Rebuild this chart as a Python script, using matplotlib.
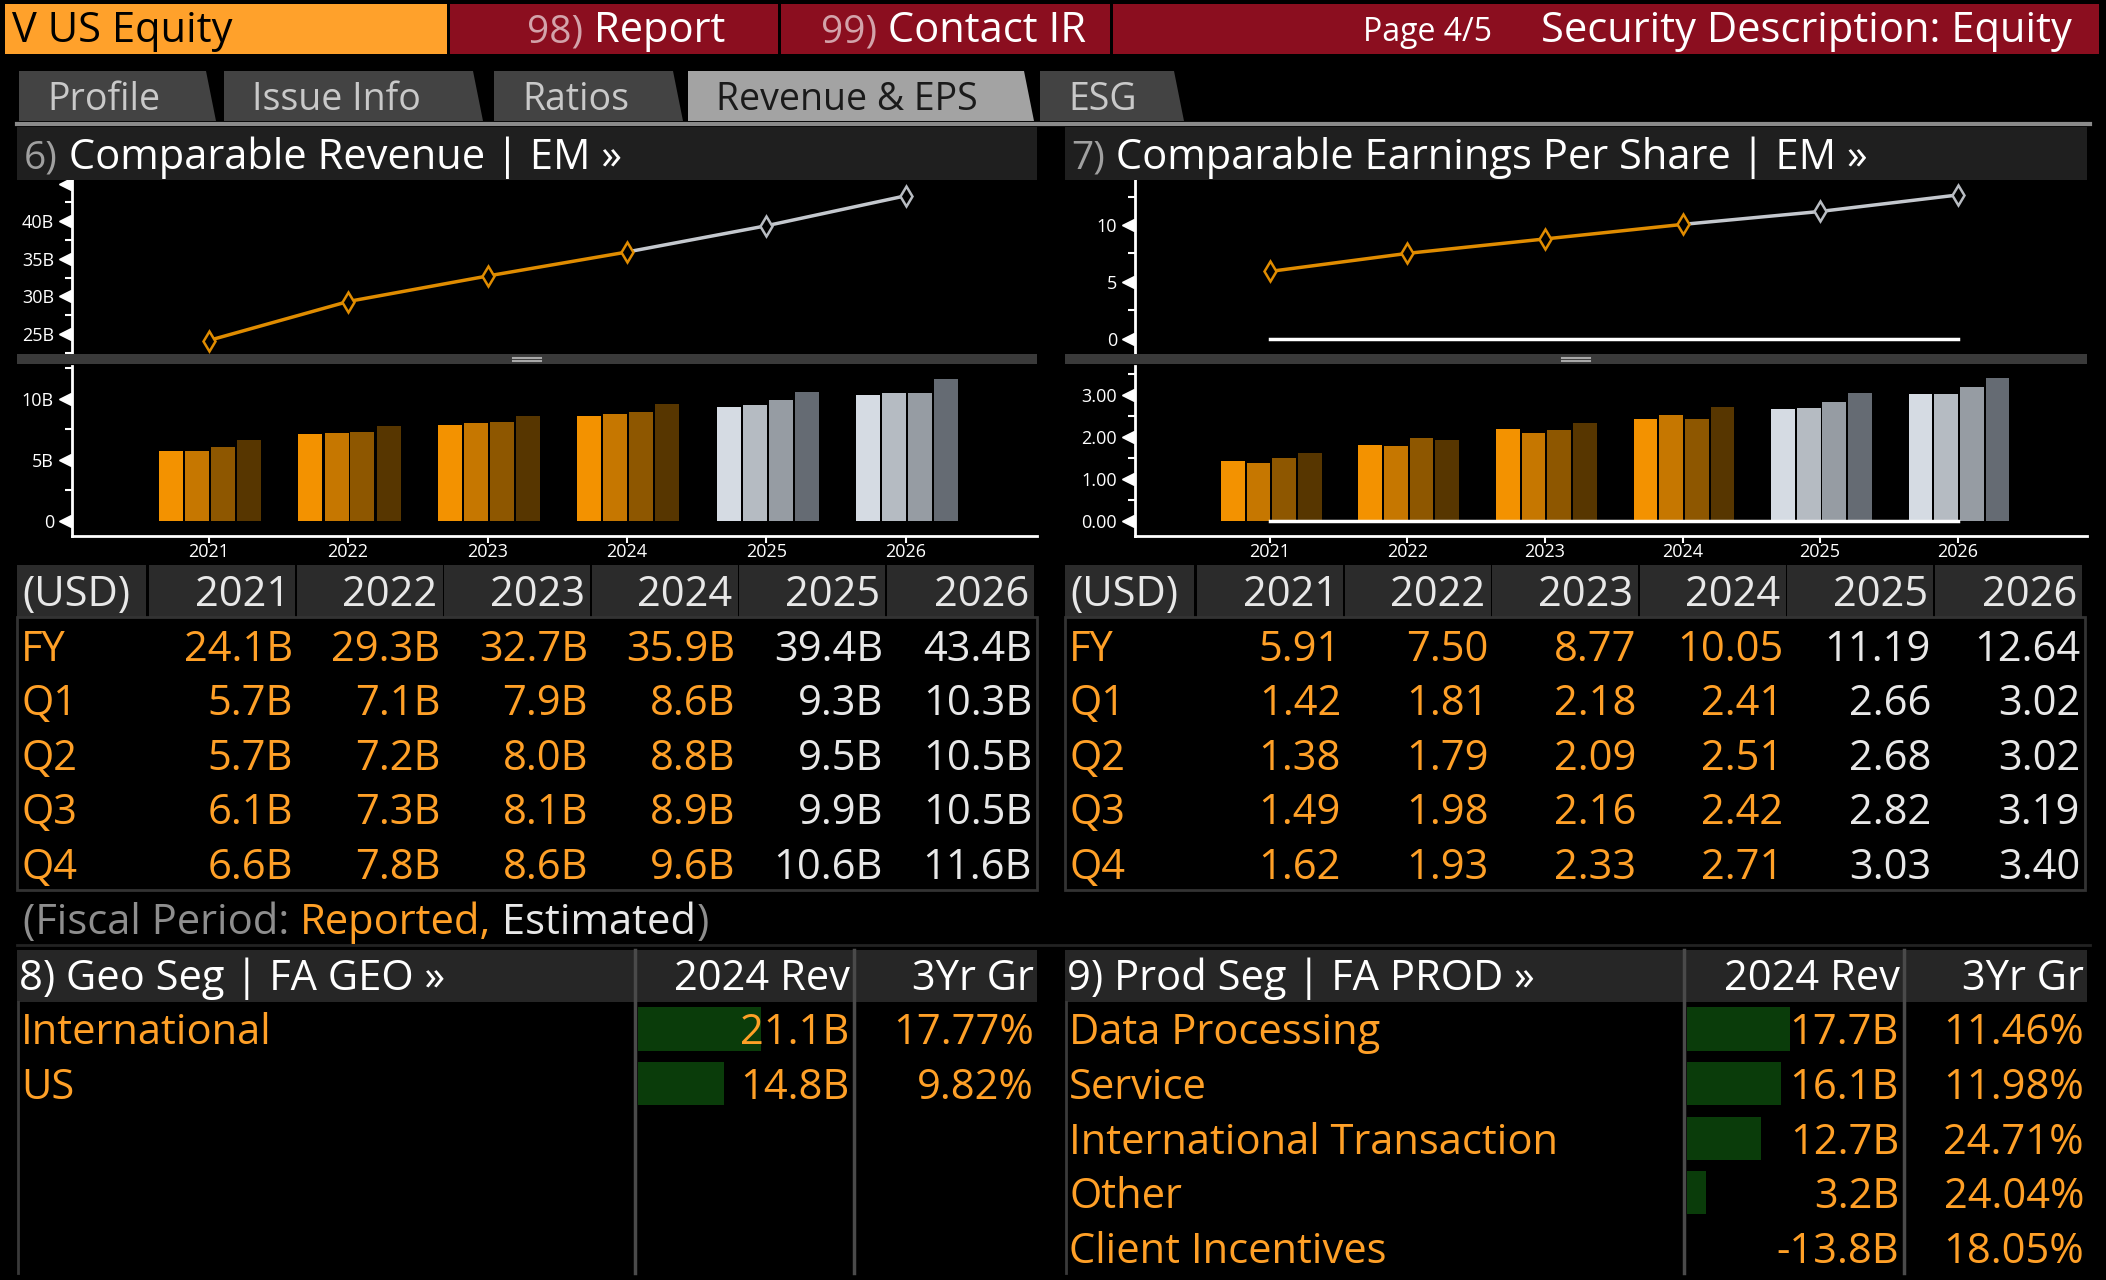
import numpy as np
import matplotlib.pyplot as plt
from matplotlib.patches import Rectangle, Polygon
from matplotlib.transforms import offset_copy

W, H = 2106, 1280
plt.rcParams['font.family'] = ['Open Sans', 'DejaVu Sans']
NARROW = ['Liberation Sans Narrow', 'Open Sans', 'DejaVu Sans']

# ---- data ----
years = [2021, 2022, 2023, 2024, 2025, 2026]
n_rep = 4  # 2021-2024 reported, rest estimated
row_labels = ['FY', 'Q1', 'Q2', 'Q3', 'Q4']

rev_fy = [24.1, 29.3, 32.7, 35.9, 39.4, 43.4]
rev_q1 = [5.7, 7.1, 7.9, 8.6, 9.3, 10.3]
rev_q2 = [5.7, 7.2, 8.0, 8.8, 9.5, 10.5]
rev_q3 = [6.1, 7.3, 8.1, 8.9, 9.9, 10.5]
rev_q4 = [6.6, 7.8, 8.6, 9.6, 10.6, 11.6]

eps_fy = [5.91, 7.50, 8.77, 10.05, 11.19, 12.64]
eps_q1 = [1.42, 1.81, 2.18, 2.41, 2.66, 3.02]
eps_q2 = [1.38, 1.79, 2.09, 2.51, 2.68, 3.02]
eps_q3 = [1.49, 1.98, 2.16, 2.42, 2.82, 3.19]
eps_q4 = [1.62, 1.93, 2.33, 2.71, 3.03, 3.40]

geo_names = ['International', 'US']
geo_rev = [21.1, 14.8]
geo_growth = [17.77, 9.82]

prod_names = ['Data Processing', 'Service', 'International Transaction', 'Other', 'Client Incentives']
prod_rev = [17.7, 16.1, 12.7, 3.2, -13.8]
prod_growth = [11.46, 11.98, 24.71, 24.04, 18.05]

tabs = ['Profile', 'Issue Info', 'Ratios', 'Revenue & EPS', 'ESG']
active_tab = 'Revenue & EPS'

# colours
ORANGE = '#ffa027'
WHITE = '#e8e8e8'
GRAY_TXT = '#8e8e8e'
rep_cols = ['#f39200', '#c67700', '#8e5700', '#573600']
est_cols = ['#d5dbe3', '#b5bbc2', '#969ca3', '#656b73']
FS = 30


def box(x0, y0, x1, y1):
    return [x0 / W, 1 - y1 / H, (x1 - x0) / W, (y1 - y0) / H]


fig = plt.figure(figsize=(W / 100, H / 100), dpi=100, facecolor='black')

# overlay axes in pixel coords for frames and text
ov = fig.add_axes([0, 0, 1, 1], zorder=5)
ov.set_xlim(0, W)
ov.set_ylim(H, 0)
ov.axis('off')


def rect(x0, y0, x1, y1, c):
    ov.add_patch(Rectangle((x0, y0), x1 - x0, y1 - y0, color=c, lw=0))


def chain2(x, y, pieces):
    # pieces of one line, all on the same baseline
    fig.canvas.draw()
    r = fig.canvas.get_renderer()
    inv = ov.transData.inverted()
    for s, c, fs, fam in pieces:
        kw = {'family': fam} if fam else {}
        t = ov.text(x, y, s, color=c, fontsize=fs, va='baseline', ha='left', **kw)
        bb = t.get_window_extent(renderer=r)
        x = inv.transform((bb.x1, bb.y0))[0]


# ---- top bar ----
rect(5, 4, 447, 54, '#ffa12b')
ov.text(12, 42, 'V US Equity', color='black', fontsize=FS, va='baseline')
rect(450, 4, 778, 54, '#8b0e1f')
rect(781, 4, 1110, 54, '#8b0e1f')
rect(1113, 4, 2099, 54, '#8b0e1f')
ov.text(1363, 41, 'Page 4/5', color='white', fontsize=23, va='baseline')
ov.text(2072, 42, 'Security Description: Equity', color='white', fontsize=FS, va='baseline', ha='right')

# ---- tabs ----
tab_x = [(19, 216), (224, 483), (494, 683), (688, 1034), (1040, 1184)]
for name, (a, b) in zip(tabs, tab_x):
    on = name == active_tab
    ov.add_patch(Polygon([(a, 121), (a, 71), (b - 10, 71), (b, 121)], closed=True,
                         color='#a3a3a3' if on else '#434343', lw=0))
    ov.text(a + 28, 110, name, color='#1a1a1a' if on else '#c9c9c9',
            fontsize=27, va='baseline', ha='left')
ov.plot([17, 2090], [124, 124], color='#8a8a8a', lw=3)


# ---- charts ----
def y_ticks(ax, major, labels, minor):
    ax.set_yticks(major)
    ax.set_yticklabels(labels)
    ax.set_yticks(minor, minor=True)
    ax.tick_params(axis='y', which='major', length=0, pad=13, labelsize=13, labelcolor='white')
    ax.tick_params(axis='y', which='minor', length=5, width=1.5, color='white', direction='out')
    tr = offset_copy(ax.get_yaxis_transform(), fig=fig, x=-5, units='points')
    for v in major:
        ax.plot([0], [v], marker='<', ms=9, color='white', transform=tr, clip_on=False)


def chart_pair(px0, px1, axis_x, line_vals, qs, lims, ticks, fmt_zero):
    rect(px0, 127, px1, 180, '#1f1f1f')
    # divider between the two plots
    rect(px0, 354, px1, 364, '#3a3a3a')
    cx = (px0 + px1) / 2
    ov.plot([cx - 14, cx + 14], [357.5, 357.5], color='#a8a8a8', lw=1.5)
    ov.plot([cx - 14, cx + 14], [361, 361], color='#a8a8a8', lw=1.5)

    # line chart
    ax = fig.add_axes(box(axis_x, 180, px1, 354), zorder=1)
    ax.set_facecolor('black')
    ax.plot(years[n_rep - 1:], line_vals[n_rep - 1:], color='#c4c8ce', lw=2.5)
    ax.plot(years[:n_rep], line_vals[:n_rep], color='#e08c00', lw=2.5, marker='d', ms=10,
            mfc='black', mec='#e08c00', mew=1.8)
    ax.plot(years[n_rep:], line_vals[n_rep:], ls='none', marker='d', ms=10,
            mfc='black', mec='#b8bcc2', mew=1.8)
    if fmt_zero:
        ax.plot([years[0], years[-1]], [0, 0], color='white', lw=2.5)
    ax.set_xlim(2020.02, 2026.94)
    ax.set_ylim(*lims[0])
    for s in ['top', 'right', 'bottom']:
        ax.spines[s].set_visible(False)
    ax.spines['left'].set_color('white')
    ax.spines['left'].set_linewidth(2)
    ax.set_xticks([])
    y_ticks(ax, *ticks[0])

    # bar chart of quarters
    bx = fig.add_axes(box(axis_x, 366, px1, 536), zorder=1)
    bx.set_facecolor('black')
    offs = [-0.28, -0.093, 0.093, 0.28]
    for i, q in enumerate(qs):
        c = [rep_cols[i] if j < n_rep else est_cols[i] for j in range(len(years))]
        bx.bar(np.array(years) + offs[i] + 0.01, q, width=0.172, color=c, lw=0)
    if fmt_zero:
        bx.plot([years[0], years[-1]], [0, 0], color='white', lw=2.5)
    bx.set_xlim(2020.02, 2026.94)
    bx.set_ylim(*lims[1])
    for s in ['top', 'right']:
        bx.spines[s].set_visible(False)
    for s in ['left', 'bottom']:
        bx.spines[s].set_color('white')
        bx.spines[s].set_linewidth(2)
    bx.set_xticks(years)
    bx.set_xticklabels([str(y) for y in years])
    bx.tick_params(axis='x', length=5, width=1.5, color='white', pad=0, labelsize=13, labelcolor='white')
    y_ticks(bx, *ticks[1])


chart_pair(17, 1037, 72, rev_fy,
           [rev_q1, rev_q2, rev_q3, rev_q4],
           [(22.3, 45.5), (-1.23, 12.7)],
           [([25, 30, 35, 40, 45], ['25B', '30B', '35B', '40B', ''], [22.5, 27.5, 32.5, 37.5, 42.5]),
            ([0, 5, 10], ['0', '5B', '10B'], [2.5, 7.5, 12.5])],
           False)
chart_pair(1065, 2087, 1135, eps_fy,
           [eps_q1, eps_q2, eps_q3, eps_q4],
           [(-1.36, 13.96), (-0.356, 3.68)],
           [([0, 5, 10], ['0', '5', '10'], [2.5, 7.5, 12.5]),
            ([0, 1, 2, 3], ['0.00', '1.00', '2.00', '3.00'], [0.5, 1.5, 2.5, 3.5])],
           True)


# ---- tables ----
def table(x0, rows, fmt):
    cols = [(x0, x0 + 129)] + [(x0 + 132 + 147.5 * k, x0 + 278 + 147.5 * k) for k in range(6)]
    cols[-1] = (cols[-1][0], x0 + 1017)
    for k, (a, b) in enumerate(cols):
        rect(a, 565, b, 617, '#2b2b2b')
        if k == 0:
            ov.text(a + 5, 606, '(USD)', color=WHITE, fontsize=FS, va='baseline')
        else:
            ov.text(b - 5, 606, str(years[k - 1]), color=WHITE, fontsize=FS, va='baseline', ha='right')
    ov.add_patch(Rectangle((x0, 617), 1020, 273, fill=False, ec='#333333', lw=2))
    for i, (lab, vals) in enumerate(zip(row_labels, rows)):
        y = 661 + 54.4 * i
        ov.text(x0 + 4, y, lab, color=ORANGE, fontsize=FS, va='baseline')
        for j, v in enumerate(vals):
            ov.text(cols[j + 1][1] - 2, y, fmt(v), color=ORANGE if j < n_rep else WHITE,
                    fontsize=FS, va='baseline', ha='right')


table(17, [rev_fy, rev_q1, rev_q2, rev_q3, rev_q4], lambda v: f'{v:.1f}B')
table(1065, [eps_fy, eps_q1, eps_q2, eps_q3, eps_q4], lambda v: f'{v:.2f}')
ov.plot([17, 2090], [945, 945], color='#222222', lw=2)


# ---- segment panels ----
def segment(x0, x1, s1, s2, names, revs, growth):
    rect(x0, 950, x1, 1002, '#262626')
    for s in (s1, s2):
        ov.plot([s, s], [950, 1273], color='#4a4a4a', lw=2.5)
    ov.plot([x0 + 1, x0 + 1], [1002, 1273], color='#3a3a3a', lw=2)
    ov.text(s2 - 4, 990, '2024 Rev', color='white', fontsize=FS, va='baseline', ha='right')
    ov.text(x1 - 3, 990, '3Yr Gr', color='white', fontsize=FS, va='baseline', ha='right')
    bx = fig.add_axes(box(s1 + 3, 1002, s2 - 3, 1273), zorder=2)
    bx.barh(range(len(revs)), revs, height=0.79, color='#0a3c0a', lw=0)
    bx.set_xlim(0, (s2 - s1 - 6) / 5.83)
    bx.set_ylim(4.47, -0.495)
    bx.axis('off')
    for i, (n, r, g) in enumerate(zip(names, revs, growth)):
        y = 1044 + 54.8 * i
        ov.text(x0 + 4, y, n, color=ORANGE, fontsize=FS, va='baseline')
        ov.text(s2 - 5, y, f'{r:.1f}B', color=ORANGE, fontsize=FS, va='baseline', ha='right')
        ov.text(x1 - 3, y, f'{g:.2f}%', color=ORANGE, fontsize=FS, va='baseline', ha='right')


segment(17, 1037, 635, 854, geo_names, geo_rev, geo_growth)
segment(1065, 2087, 1684, 1904, prod_names, prod_rev, prod_growth)

# multi-colour text runs (need the renderer for widths)
chain2(527, 42, [('98)', '#d3a3aa', 28, NARROW), (' Report', 'white', FS, None)])
chain2(821, 42, [('99)', '#d3a3aa', 28, NARROW), (' Contact IR', 'white', FS, None)])
chain2(24, 169, [('6)', '#a0a0a0', 28, NARROW), (' Comparable Revenue | EM »', 'white', FS, None)])
chain2(1071, 169, [('7)', '#a0a0a0', 28, NARROW), (' Comparable Earnings Per Share | EM »', 'white', FS, None)])
chain2(23, 934, [('(Fiscal Period: ', GRAY_TXT, FS, None), ('Reported,', ORANGE, FS, None),
                 (' Estimated', WHITE, FS, None), (')', GRAY_TXT, FS, None)])
ov.text(19, 990, '8) Geo Seg | FA GEO »', color='white', fontsize=FS, va='baseline')
ov.text(1067, 990, '9) Prod Seg | FA PROD »', color='white', fontsize=FS, va='baseline')

fig.savefig('out.png', dpi=100, facecolor='black')
